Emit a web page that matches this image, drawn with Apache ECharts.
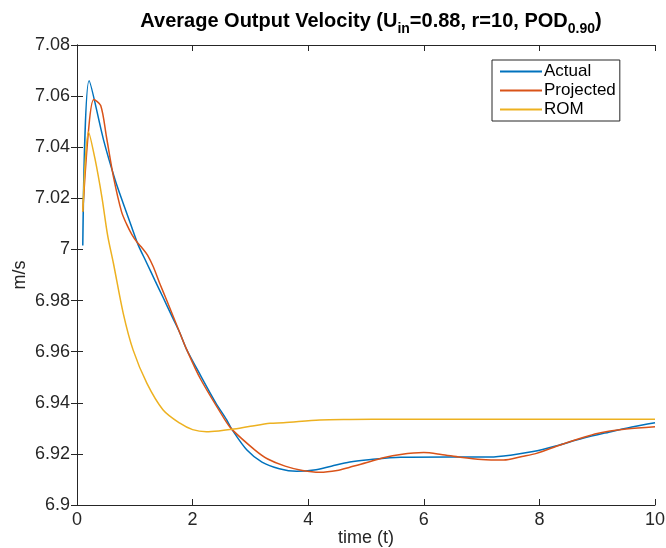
<!DOCTYPE html>
<html>
<head>
<meta charset="utf-8">
<script src="https://cdn.jsdelivr.net/npm/echarts@6/dist/echarts.min.js"></script>
<style>html,body{margin:0;padding:0;background:#fff}#c{width:666px;height:548px}</style>
</head>
<body>
<div id="c"></div>
<script>
// ---- data (time, value) ----
var actualT = [0.1, 0.21, 0.46, 0.66, 0.8, 0.95, 1.06, 1.2, 1.35, 1.49, 1.65, 1.78, 1.9, 2.13, 2.4, 2.59, 2.68, 2.94, 3.2, 3.5, 3.8, 4.1, 4.4, 4.72, 5.0, 5.6, 6.45, 7.15, 7.5, 7.89, 8.3, 8.75, 9.2, 9.6, 10];
var actualV = [7.0015, 7.066, 7.0428, 7.0272, 7.018, 7.0085, 7.0017, 6.995, 6.9878, 6.9812, 6.9735, 6.9673, 6.9607, 6.951, 6.940, 6.9333, 6.9296, 6.9215, 6.9168, 6.9142, 6.9132, 6.9137, 6.9152, 6.9168, 6.9176, 6.9187, 6.9188, 6.9188, 6.9195, 6.9209, 6.9232, 6.9261, 6.9285, 6.9305, 6.9322];

var projT = [0.1, 0.2, 0.29, 0.41, 0.51, 0.63, 0.77, 0.86, 0.95, 1.04, 1.13, 1.22, 1.32, 1.43, 1.55, 1.78, 1.9, 2.13, 2.56, 2.68, 3.08, 3.3, 3.6, 3.9, 4.2, 4.5, 4.72, 5.0, 5.3, 5.6, 6.0, 6.3, 6.63, 7.0, 7.38, 7.7, 7.95, 8.36, 8.7, 9.0, 9.5, 10];
var projV = [7.0148, 7.0467, 7.0587, 7.0563, 7.044, 7.0285, 7.0148, 7.0098, 7.0058, 7.0028, 7.0005, 6.9978, 6.9932, 6.9868, 6.9802, 6.9673, 6.9607, 6.9496, 6.9333, 6.9296, 6.9215, 6.918, 6.9152, 6.9135, 6.9128, 6.9135, 6.9148, 6.9165, 6.9185, 6.9198, 6.9205, 6.9198, 6.9187, 6.9178, 6.9176, 6.919, 6.9202, 6.9235, 6.926, 6.928, 6.9297, 6.9306];

var romT = [0.1, 0.2, 0.31, 0.43, 0.53, 0.63, 0.8, 0.97, 1.21, 1.49, 1.78, 2.0, 2.24, 2.45, 2.68, 3.0, 3.34, 3.57, 4.2, 4.72, 5.5, 6.5, 8, 10];
var romV = [7.0148, 7.046, 7.0356, 7.0206, 7.0055, 6.9946, 6.975, 6.9607, 6.9476, 6.9372, 6.932, 6.9295, 6.9287, 6.929, 6.9296, 6.9308, 6.932, 6.9322, 6.9333, 6.9335, 6.9336, 6.9336, 6.9336, 6.9336];

var xTicks = [0, 2, 4, 6, 8, 10];
var xTickLabels = ['0', '2', '4', '6', '8', '10'];
var yTicks = [6.9, 6.92, 6.94, 6.96, 6.98, 7.0, 7.02, 7.04, 7.06, 7.08];
var yTickLabels = ['6.9', '6.92', '6.94', '6.96', '6.98', '7', '7.02', '7.04', '7.06', '7.08'];

function pairs(t, v) { return t.map(function (x, i) { return [x, v[i]]; }); }
function lookup(ticks, labels, val) {
  for (var i = 0; i < ticks.length; i++) if (Math.abs(ticks[i] - val) < 1e-9) return labels[i];
  return '';
}

var FONT = '"Liberation Sans", Arial, Helvetica, sans-serif';
var INK = '#262626';
var chart = echarts.init(document.getElementById('c'), null, { renderer: 'canvas' });

var axisCommon = {
  axisLine: { show: true, lineStyle: { color: INK, width: 1 } },
  axisTick: { show: true, inside: true, length: 6, lineStyle: { color: INK, width: 1 } },
  splitLine: { show: false }
};

chart.setOption({
  animation: false,
  backgroundColor: '#fff',
  title: {
    left: 366, top: 2, textAlign: 'center',
    text: 'Average Output Velocity (U{s|in}=0.88, r=10, POD{s|0.90})',
    textStyle: {
      fontFamily: FONT, fontSize: 20, fontWeight: 'bold', color: '#000', lineHeight: 28,
      rich: {
        s: { fontFamily: FONT, fontSize: 14, fontWeight: 'bold', color: '#000', lineHeight: 14, padding: [17, 0, 0, 0] }
      }
    }
  },
  legend: {
    left: 492, top: 60, orient: 'vertical',
    backgroundColor: '#fff', borderColor: INK, borderWidth: 1, borderRadius: 0,
    padding: [3, 4, 3, 8], itemGap: 2,
    itemWidth: 42, itemHeight: 2, icon: 'rect',
    textStyle: { fontFamily: FONT, fontSize: 17, color: '#000', padding: [0, 0, 0, -3] },
    data: ['Actual', 'Projected', 'ROM']
  },
  grid: { left: 77, right: 11, top: 45, bottom: 43, containLabel: false, outerBoundsMode: 'none' },
  xAxis: [
    Object.assign({}, axisCommon, {
      type: 'value', min: 0, max: 10, interval: 2, position: 'bottom',
      name: 'time (t)', nameLocation: 'middle', nameGap: 33, nameMoveOverlap: false,
      nameTextStyle: { fontFamily: FONT, fontSize: 18, color: INK, verticalAlign: 'middle' },
      axisLabel: { fontFamily: FONT, fontSize: 18, color: INK, margin: 6,
        formatter: function (v) { return lookup(xTicks, xTickLabels, v); } }
    }),
    Object.assign({}, axisCommon, {
      type: 'value', min: 0, max: 10, interval: 2, position: 'top', axisLabel: { show: false }
    })
  ],
  yAxis: [
    Object.assign({}, axisCommon, {
      type: 'value', min: 6.9, max: 7.08, interval: 0.02, position: 'left',
      name: 'm/s', nameLocation: 'middle', nameGap: 57, nameRotate: 90, nameMoveOverlap: false,
      nameTextStyle: { fontFamily: FONT, fontSize: 18, color: INK, verticalAlign: 'middle' },
      axisLabel: { fontFamily: FONT, fontSize: 18, color: INK, margin: 7,
        formatter: function (v) { return lookup(yTicks, yTickLabels, v); } }
    }),
    Object.assign({}, axisCommon, {
      type: 'value', min: 6.9, max: 7.08, interval: 0.02, position: 'right', axisLabel: { show: false }
    })
  ],
  series: [
    { name: 'Actual', type: 'line', data: pairs(actualT, actualV), showSymbol: false, smooth: 0.3,
      color: '#0072BD', lineStyle: { width: 1.5, color: '#0072BD' } },
    { name: 'Projected', type: 'line', data: pairs(projT, projV), showSymbol: false, smooth: 0.3,
      color: '#D95319', lineStyle: { width: 1.5, color: '#D95319' } },
    { name: 'ROM', type: 'line', data: pairs(romT, romV), showSymbol: false, smooth: 0.3,
      color: '#EDB120', lineStyle: { width: 1.5, color: '#EDB120' } }
  ]
});
</script>
</body>
</html>
